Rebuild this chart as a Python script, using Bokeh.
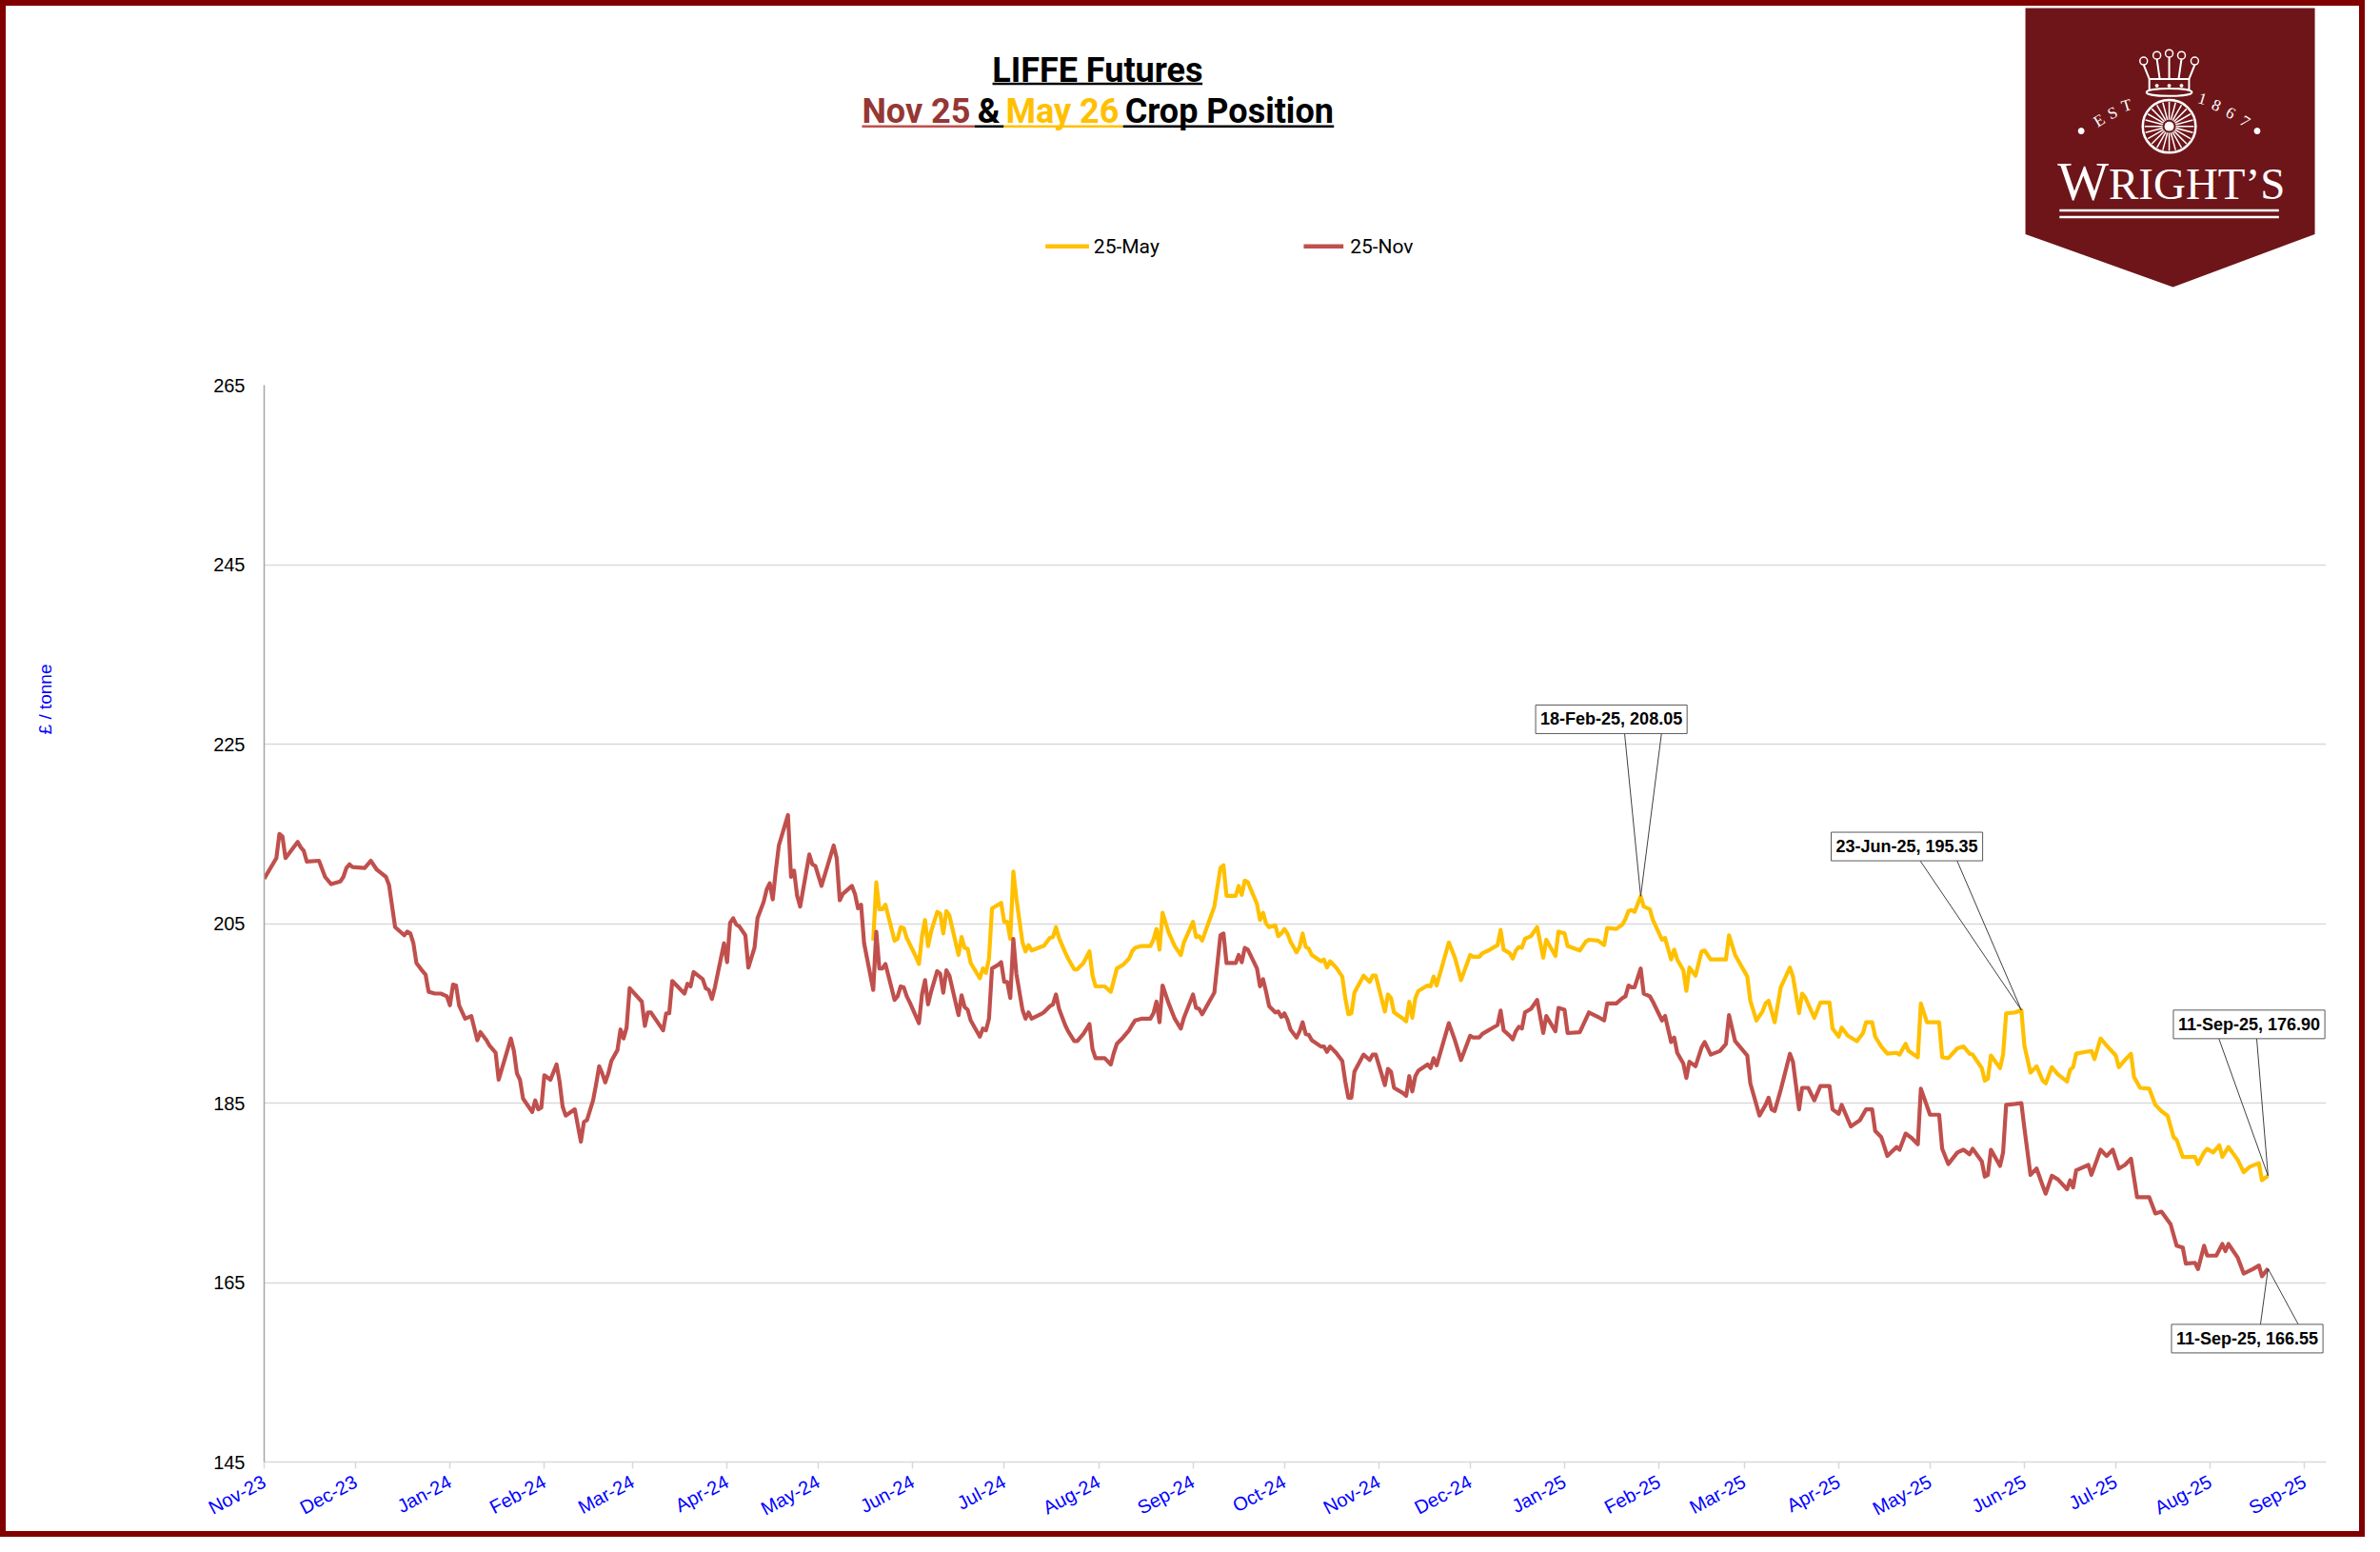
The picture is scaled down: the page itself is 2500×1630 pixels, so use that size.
import numpy as np
import pandas as pd
from bokeh.plotting import figure
from bokeh.layouts import column
from bokeh.models import Range1d, FixedTicker, Label, Title, LinearAxis
from bokeh.core.properties import value
from bokeh.embed import file_html
from bokeh.resources import INLINE

# ---- data ----
start_date = "2023-11-01"
month_labels = ["Nov-23", "Dec-23", "Jan-24", "Feb-24", "Mar-24", "Apr-24", "May-24", "Jun-24",
                "Jul-24", "Aug-24", "Sep-24", "Oct-24", "Nov-24", "Dec-24", "Jan-25", "Feb-25",
                "Mar-25", "Apr-25", "May-25", "Jun-25", "Jul-25", "Aug-25", "Sep-25"]
y_ticks = [145, 165, 185, 205, 225, 245, 265]
series_names = ["25-May", "25-Nov"]

# x = days after start_date where the point sits on the date axis, y = £/tonne
nov_days = [0, 4, 5, 6, 7, 11, 12, 13, 14, 18, 20, 22, 25, 26, 27, 28, 29, 33, 35, 37,
            40, 41, 43, 46, 47, 48, 49, 50, 52, 53, 54, 55, 56, 58, 60, 61, 62, 63, 64, 66,
            68, 70, 71, 73, 74, 76, 77, 79, 81, 82, 83, 84, 85, 88, 89, 90, 91, 92, 94, 96,
            97, 98, 99, 102, 104, 105, 106, 108, 109, 110, 111, 112, 113, 114, 116, 117, 118, 119, 120, 124,
            125, 126, 127, 131, 132, 133, 134, 138, 139, 140, 141, 144, 145, 146, 147, 148, 151, 152, 153, 154,
            155, 156, 158, 159, 161, 162, 164, 165, 166, 167, 168, 169, 172, 173, 174, 175, 176, 179, 180, 181,
            183, 187, 188, 189, 190, 193, 194, 195, 196, 197, 200, 201, 202, 203, 204, 207, 208, 209, 210, 211,
            212, 215,
            216, 217, 218, 219, 221, 222, 223, 224, 225, 228, 229, 230, 231, 232, 235, 236, 237, 238, 239, 241,
            242, 243, 244, 245, 246, 247, 249, 250, 251, 252, 255, 256, 258, 259, 260, 261, 263, 264, 266, 267,
            269, 271, 272, 273, 276, 278, 279, 280, 282, 284, 285, 286, 288, 291, 292, 293, 294, 295, 297, 299,
            301, 302, 305, 306, 307, 308, 312, 314, 315, 316, 319, 320, 321, 322, 323, 326, 327, 328, 329, 330,
            332, 333, 334, 335, 336, 337, 339, 340, 341, 342, 343, 344, 347, 348, 349, 350, 352, 354, 355, 356,
            357, 358, 361, 363, 364, 365, 368, 369, 370, 371, 374, 375, 376, 377, 378, 379, 382, 383, 384, 385,
            389, 391, 393, 396, 397, 399, 400, 402, 403, 405, 406, 407, 409, 410, 411, 412, 413, 414, 416, 418,
            420, 421, 424, 425, 427, 428, 432, 435,
            438, 440, 441, 444, 446, 447, 448, 449, 450, 452, 453, 455, 456, 459, 460, 462, 463, 464, 466, 467,
            468, 470, 472, 473, 475, 478, 480, 481, 483, 487, 488, 491, 493, 494, 495, 496, 498, 501, 502, 504,
            505, 507, 509, 511, 514, 515, 517, 518, 521, 524, 526, 528, 529, 531, 533, 536, 537, 539, 541, 543,
            544, 547, 550, 551, 553, 556, 558, 560, 561, 564, 565, 566, 567, 570, 571, 572, 575, 577, 578, 580,
            582, 584, 585, 587, 589, 592, 593, 594, 595, 599, 600, 603, 605, 607, 609, 611, 613, 615, 619, 621,
            623, 626, 628, 630, 631, 634, 635, 637, 638, 641, 643, 644, 645, 648, 650, 653, 655, 656, 658]
nov_price = [210.0, 212.3, 215.0, 214.7, 212.3, 214.1, 213.5, 213.1, 211.9, 212.0,
             210.2, 209.4, 209.7, 210.2, 211.2, 211.6, 211.3, 211.2, 212.0, 211.0,
             210.2, 209.3, 204.6, 203.7, 204.1, 203.9, 202.8, 200.6, 199.7, 199.3,
             197.4, 197.3, 197.2, 197.2, 196.9, 195.9, 198.2, 198.1, 195.9, 194.4,
             194.7, 192.0, 192.9, 192.0, 191.4, 190.6, 187.6, 189.9, 192.2, 190.8,
             188.3, 187.6, 185.5, 184.0, 185.3, 184.3, 184.5, 188.1, 187.6, 189.3,
             187.4, 184.6, 183.6, 184.3, 180.7, 182.9, 183.1, 185.3, 187.1, 189.1,
             188.3, 187.3, 188.3, 189.7, 190.9, 193.2, 192.2, 193.4, 197.8, 196.3,
             193.6, 195.1, 195.1, 193.1, 195.0, 195.0, 198.6, 197.2, 198.3, 198.0,
             199.6, 198.8, 197.8, 197.6, 196.6, 197.9, 202.8, 200.7, 205.1, 205.6,
             204.9, 204.7, 203.7, 200.1, 202.3, 205.6, 207.4, 208.8, 209.5, 207.7,
             210.9, 213.7, 217.1, 210.2, 210.9, 208.1, 206.9, 212.7, 211.6, 211.4,
             209.2, 213.7, 212.3, 207.6, 208.3, 209.2, 208.3, 206.7, 207.1, 202.8,
             197.6, 204.1, 200.0, 200.0, 200.5, 196.5, 196.9, 198.0, 197.9, 196.9,
             196.2, 193.9,
             197.1, 198.7, 196.0, 197.4, 199.7, 199.4, 197.3, 199.8, 199.2, 194.8,
             197.0, 195.7, 195.4, 194.2, 192.4, 193.3, 193.1, 194.4, 200.0, 200.4,
             200.7, 198.5, 198.5, 196.7, 203.3, 199.4, 195.4, 194.4, 195.1, 194.4,
             194.9, 195.1, 195.8, 196.0, 197.1, 195.5, 193.7, 193.0, 191.9, 191.9,
             192.7, 193.8, 191.0, 190.0, 190.0, 189.3, 190.6, 191.6, 192.3, 193.1,
             193.7, 194.2, 194.4, 194.4, 195.0, 196.3, 194.0, 198.1, 196.1, 194.4,
             193.3, 194.5, 197.1, 195.6, 195.5, 194.9, 197.3, 203.7, 203.9, 200.6,
             200.6, 201.5, 200.7, 202.3, 202.1, 200.0, 198.0, 198.8, 197.4, 195.8,
             195.1, 195.2, 194.6, 195.0, 194.3, 193.2, 192.3, 193.0, 194.0, 192.7,
             192.6, 192.0, 191.3, 191.3, 190.7, 191.3, 190.6, 189.7, 187.4, 185.6,
             185.6, 188.5, 190.4, 189.8, 190.4, 190.4, 187.0, 188.8, 188.5, 186.7,
             186.1, 185.8, 188.0, 186.3, 188.0, 188.6, 189.3, 188.9, 190.0, 189.2,
             193.9, 192.0, 189.8, 192.5, 192.3, 192.3, 192.7, 193.1, 193.3, 193.7,
             195.3, 193.1, 192.5, 192.1, 193.0, 193.5, 193.3, 195.1, 195.5, 196.5,
             192.8, 194.7, 193.0, 195.6, 195.4, 192.8, 192.9, 195.1,
             194.6, 194.2, 196.1, 196.1, 196.7, 196.9, 198.1, 197.9, 197.9, 200.0,
             197.2, 196.9, 196.3, 194.2, 194.7, 191.8, 192.3, 190.6, 189.4, 187.8,
             189.6, 189.1, 191.2, 191.8, 190.4, 190.8, 191.6, 194.8, 191.9, 190.3,
             187.2, 183.6, 184.8, 185.6, 184.3, 184.1, 186.5, 190.5, 189.6, 184.3,
             186.7, 186.7, 185.3, 186.9, 186.9, 184.3, 183.8, 184.8, 182.4, 183.1,
             184.3, 184.3, 181.9, 181.2, 179.1, 180.1, 179.8, 181.6, 181.1, 180.4,
             186.6, 183.7, 183.7, 179.9, 178.2, 179.5, 179.8, 179.3, 179.9, 178.5,
             176.8, 177.0, 179.8, 178.0, 179.5, 184.8, 184.9, 185.0, 182.2, 177.0,
             177.7, 175.8, 174.9, 176.9, 176.5, 175.4, 176.4, 175.6, 177.5, 178.1,
             177.0, 179.8, 179.1, 179.8, 177.7, 178.1, 178.8, 174.5, 174.5, 172.7,
             172.9, 171.5, 169.1, 168.9, 167.1, 167.2, 166.5, 169.1, 168.0, 168.0,
             169.3, 168.5, 169.3, 167.8, 166.0, 166.5, 166.9, 165.7, 166.55]

may_days = [200, 201, 202, 203, 204, 207, 208, 209, 210, 211, 213, 214, 215, 216, 217, 218, 219, 221, 222, 223,
            224, 225, 228, 229, 230, 231, 232, 235, 236, 237, 238, 239, 242, 243, 244, 245, 246, 247, 249, 250,
            251, 252, 255, 256, 258, 259, 260, 261, 263, 264, 266, 267, 269, 271, 272, 273, 276, 278, 279, 280,
            282, 284, 285, 286, 288, 291, 292, 293, 294, 295, 297, 299, 301, 302, 305, 306, 307, 308, 312, 314,
            315, 316, 319, 320, 321, 322, 323, 326, 327, 328, 329, 330, 332, 333, 334, 335, 336, 337, 339, 340,
            341, 342, 343, 344, 347, 348, 349, 350, 352, 354, 355, 356, 357, 358, 361, 363, 364, 365, 368, 369,
            370, 371, 374, 375, 376, 377, 378, 379, 382, 383, 384, 385, 389, 391, 393, 396, 397, 399, 400, 402,
            403, 405, 406, 407, 409, 410, 411, 412, 413, 414, 416, 418, 420, 421, 424, 425, 427, 428, 432, 434,
            435,
            438, 440, 441, 444, 446, 447, 448, 449, 450, 452, 453, 455, 456, 459, 460, 462, 463, 464, 466, 467,
            468, 470, 472, 473, 475, 478, 480, 481, 483, 487, 488, 490, 492, 493, 494, 495, 496, 498, 501, 502,
            504, 505, 506, 509, 511, 514, 515, 517, 518, 520, 523, 525, 526, 528, 529, 531, 533, 536, 537, 539,
            540, 543, 544, 546, 550, 551, 553, 556, 558, 560, 561, 564, 565, 566, 567, 570, 571, 572, 575, 577,
            578, 580, 582, 584, 585, 587, 589, 592, 593, 594, 595, 598, 600, 601, 603, 605, 608, 609, 611, 613,
            614, 616, 619, 621, 623, 625, 627, 628, 630, 634, 635, 637, 638, 640, 642, 643, 645, 648, 650, 652,
            655, 656, 658]
may_price = [203.1, 209.6, 206.6, 206.6, 207.1, 203.1, 203.3, 204.6, 204.5, 203.4,
             202.0, 201.3, 200.5, 203.6, 205.4, 202.5, 204.1, 206.3, 206.1, 203.9,
             206.4, 205.9, 201.5, 203.5, 202.3, 202.2, 200.6, 198.9, 200.0, 199.5,
             201.1, 206.7, 207.3, 205.2, 205.2, 203.3, 210.8, 207.8, 202.9, 201.9,
             202.6, 202.0, 202.4, 202.5, 203.4, 203.5, 204.6, 203.4, 201.8, 201.1,
             199.9, 199.9, 200.6, 201.9, 199.2, 198.0, 198.0, 197.4, 198.7, 200.0,
             200.4, 201.1, 201.9, 202.3, 202.5, 202.5, 203.2, 204.4, 202.1, 206.2,
             204.0, 202.5, 201.5, 202.9, 205.2, 203.5, 203.6, 203.1, 206.9, 211.2,
             211.5, 208.1, 208.1, 209.2, 208.2, 209.8, 209.6, 207.2, 205.4, 206.2,
             205.0, 204.6, 204.8, 203.6, 203.9, 204.4, 203.9, 203.0, 201.8, 202.4,
             203.9, 202.4, 202.2, 201.5, 200.8, 201.0, 200.1, 200.8, 200.1, 199.1,
             196.7, 194.9, 195.0, 197.3, 199.2, 198.5, 199.2, 199.2, 195.2, 197.1,
             196.7, 195.1, 194.4, 194.1, 196.3, 194.5, 196.7, 197.5, 198.1, 198.0,
             199.1, 198.1, 202.9, 201.2, 198.7, 201.5, 201.3, 201.3, 201.7, 202.0,
             202.2, 202.6, 204.3, 202.1, 201.7, 201.1, 202.0, 202.4, 202.3, 203.3,
             203.6, 204.6, 201.2, 203.2, 201.4, 204.1, 203.9, 202.5, 202.0, 203.0,
             203.2,
             203.1, 202.6, 204.5, 204.4, 204.9, 205.5, 206.4, 206.5, 206.3, 208.05,
             206.9, 206.6, 205.4, 203.2, 203.4, 201.0, 202.1, 201.0, 199.8, 197.5,
             200.1, 199.2, 201.9, 202.0, 201.0, 201.0, 201.0, 203.7, 201.5, 199.1,
             196.4, 194.2, 195.2, 196.1, 196.4, 195.2, 194.0, 197.9, 200.1, 199.1,
             195.0, 197.2, 196.8, 194.5, 196.2, 196.2, 193.3, 192.4, 193.4, 192.5,
             191.9, 192.8, 194.0, 194.0, 192.4, 191.3, 190.5, 190.6, 190.4, 191.6,
             190.8, 190.1, 196.1, 194.0, 194.0, 190.1, 190.0, 191.1, 191.3, 190.5,
             190.4, 188.9, 187.5, 187.7, 190.3, 188.9, 190.4, 195.0, 195.1, 195.35,
             191.4, 188.4, 189.1, 187.5, 187.2, 189.0, 188.2, 187.4, 188.7, 189.0,
             190.5, 190.7, 190.8, 189.9, 192.2, 191.4, 190.3, 189.0, 189.8, 190.5,
             187.9, 186.7, 186.6, 184.8, 184.1, 183.6, 181.2, 180.9, 179.0, 179.0,
             178.2, 179.5, 179.9, 179.5, 180.3, 179.0, 180.1, 178.7, 177.3, 177.9,
             178.3, 176.4, 176.9]

callout_dates = ["18-Feb-25", "23-Jun-25", "11-Sep-25", "11-Sep-25"]
callout_days = [452, 577, 658, 658]
callout_values = [208.05, 195.35, 176.90, 166.55]

# ---- layout (page is 2484 px wide; S maps the 2500 px reference onto it) ----
S = 2484 / 2500
W = 2472                      # inside the 6 px frame border
HEAD_H = 384
FW, FH = 2166, 1131           # plot frame in px
BL, BR = 271, 35
x_end = 677.1
MAY_COL, NOV_COL = "#FFC000", "#C0504D"

tick_days = [int(d) for d in (pd.date_range(start_date, periods=len(month_labels), freq="MS")
                              - pd.Timestamp(start_date)).days]

p = figure(width=W, height=1602 - HEAD_H, x_range=Range1d(0, x_end),
           y_range=Range1d(y_ticks[0], y_ticks[-1]), output_backend="svg", toolbar_location=None,
           min_border_left=BL, min_border_right=BR, min_border_top=14, min_border_bottom=73)
p.outline_line_color = None
p.xgrid.visible = False
p.ygrid.grid_line_color = "#d9d9d9"
p.ygrid.grid_line_width = 1.5

p.yaxis.ticker = FixedTicker(ticks=y_ticks)
p.yaxis.axis_line_color = "#a6a6a6"
p.yaxis.axis_line_width = 1.5
p.yaxis.major_tick_line_color = None
p.yaxis.major_tick_out = 0
p.yaxis.minor_tick_line_color = None
p.yaxis.major_label_text_font = "Liberation Sans"
p.yaxis.major_label_text_font_size = "20px"
p.yaxis.major_label_text_color = "black"
p.yaxis.major_label_standoff = 20

p.xaxis.ticker = FixedTicker(ticks=tick_days)
p.xaxis.major_label_overrides = {d: lab for d, lab in zip(tick_days, month_labels)}
p.xaxis.major_label_orientation = np.radians(28)
p.xaxis.major_label_text_color = "#0000ff"
p.xaxis.major_label_text_font = "Liberation Sans"
p.xaxis.major_label_text_font_size = "20px"
p.xaxis.major_label_standoff = 12
p.xaxis.axis_line_color = "#d9d9d9"
p.xaxis.axis_line_width = 1.5
p.xaxis.major_tick_line_color = "#d9d9d9"
p.xaxis.major_tick_line_width = 1.5
p.xaxis.major_tick_in = 0
p.xaxis.major_tick_out = 7
p.xaxis.minor_tick_line_color = None

# y title sits high on the far left: a blank-labelled axis pushes it out, offset lifts it
spacer = LinearAxis(ticker=FixedTicker(ticks=[]), axis_line_color=None, major_tick_line_color=None,
                    minor_tick_line_color=None, major_tick_out=0, minor_tick_out=0,
                    major_label_standoff=0, axis_label="\u00a0", axis_label_standoff=138,
                    axis_label_text_font="Liberation Sans", axis_label_text_font_size="19px")
p.add_layout(spacer, "left")
p.add_layout(Title(text="£ / tonne", align="right", vertical_align="top", offset=293, standoff=0,
                   text_color="#0000ff", text_font="Liberation Sans", text_font_size="19px",
                   text_font_style="normal"), "left")

p.line(may_days, may_price, line_color=MAY_COL, line_width=4.2, line_join="round")
p.line(nov_days, nov_price, line_color=NOV_COL, line_width=4.2, line_join="round")

# callouts: box centre offset and two leader lines (reference px from the point)
px_x = FW / x_end
px_y = FH / (y_ticks[-1] - y_ticks[0])
box_off = [(-31, 187), (-121, 173), (-20, 160), (-22, -74)]
leader_off = [(-17, 22, 172), (-107, -68, 158), (-52, -12, 145), (-8, 32, -59)]
x0s, y0s, x1s, y1s = [], [], [], []
for d, v, dt, (bx, by), (l1, l2, ly) in zip(callout_days, callout_values, callout_dates, box_off, leader_off):
    for lx in (l1, l2):
        x0s.append(d)
        y0s.append(v)
        x1s.append(d + lx * S / px_x)
        y1s.append(v + ly * S / px_y)
    p.add_layout(Label(x=d, y=v, x_offset=bx * S, y_offset=by * S, text=f"{dt}, {v:.2f}",
                       text_align="center", text_baseline="middle", text_font="Liberation Sans",
                       text_font_style="bold", text_font_size="18px", text_color="black",
                       background_fill_color="white", border_line_color="#595959",
                       border_line_width=1, padding=5))
p.segment(x0s, y0s, x1s, y1s, line_color="#404040", line_width=1)

# ---- header: title, legend, logo (drawn in reference pixel coordinates) ----
h = figure(width=W, height=HEAD_H, x_range=Range1d(279, 2459), y_range=Range1d((6 + HEAD_H) / S, 6 / S),
           x_axis_location=None, y_axis_location=None, output_backend="svg", toolbar_location=None,
           min_border_left=BL, min_border_right=BR, min_border_top=0, min_border_bottom=0)
h.grid.visible = False
h.outline_line_color = None

h.text(x=[1160], y=[73.5], text=["LIFFE Futures"], text_align="center", text_baseline="middle",
       text_font=value("Roboto"), text_font_style="bold", text_font_size="36px", text_color="black")
h.segment(x0=[1049], y0=[88], x1=[1271], y1=[88], line_color="black", line_width=2.5)

sub_text = ["Nov 25", "&", "May 26", "Crop Position"]
sub_col = ["#953735", "black", MAY_COL, "black"]
sub_x = [911, 1033, 1063, 1189]
sub_end = [1030, 1061, 1187, 1410]
h.text(x=sub_x, y=[117.5] * 4, text=sub_text, text_color=sub_col, text_align="left",
       text_baseline="middle", text_font=value("Roboto"), text_font_style="bold",
       text_font_size="36px")
h.segment(x0=sub_x[:1] + sub_end[:-1], y0=[133] * 4, x1=sub_end, y1=[133] * 4,
          line_color=[NOV_COL, "black", MAY_COL, "black"], line_width=2.5)

# legend
h.segment(x0=[1105, 1378], y0=[260, 260], x1=[1151, 1420], y1=[260, 260],
          line_color=[MAY_COL, NOV_COL], line_width=4.5)
h.text(x=[1156, 1427], y=[260, 260], text=series_names, text_baseline="middle",
       text_font=value("Roboto"), text_font_size="21px", text_color="black")

# logo banner
LOGO = "#6E1519"
h.patch([2141, 2447, 2447, 2297, 2141], [8, 8, 247, 303, 247], fill_color=LOGO, line_color=None)
cx = 2293
h.quad(left=[2272], right=[2314], top=[83], bottom=[96], fill_color=None, line_color="white", line_width=2)
h.ellipse(x=[cx], y=[97], width=[48], height=[8], fill_color=LOGO, line_color="white", line_width=2)
tips_x = [2266, 2280, 2293, 2306, 2320]
tips_y = [64, 58, 56, 58, 64]
h.segment(x0=tips_x, y0=[t + 4 for t in tips_y], x1=[2272, 2283, 2293, 2303, 2314], y1=[83] * 5,
          line_color="white", line_width=2)
h.circle(tips_x, tips_y, radius=4, fill_color=LOGO, line_color="white", line_width=1.5)
h.scatter([2280, 2293, 2306], [90, 90, 90], size=3, color="white")
ang = np.linspace(0, 2 * np.pi, 24, endpoint=False)
h.segment(x0=cx + 7 * np.cos(ang), y0=133 + 7 * np.sin(ang), x1=cx + 26 * np.cos(ang),
          y1=133 + 26 * np.sin(ang), line_color="white", line_width=1.5)
h.circle([cx], [133], radius=28, fill_color=None, line_color="white", line_width=2.5)
h.circle([cx], [133], radius=5, fill_color="white", line_color=None)
h.text(x=[2219, 2233, 2248], y=[127, 119, 111], text=["E", "S", "T"], angle=[0.55, 0.42, 0.3],
       text_align="center", text_baseline="middle", text_font=value("Liberation Serif"),
       text_font_size="17px", text_color="white")
h.text(x=[2328, 2343, 2358, 2373], y=[104, 111, 119, 128], text=["1", "8", "6", "7"],
       angle=[-0.3, -0.42, -0.5, -0.6], text_align="center", text_baseline="middle",
       text_font=value("Liberation Serif"), text_font_size="17px", text_color="white")
h.scatter([2200, 2386], [138, 138], size=6, color="white")
h.text(x=[2175], y=[191], text=["W"], text_font=value("Liberation Serif"), text_font_size="57px",
       text_color="white", text_baseline="middle")
h.text(x=[2229], y=[194], text=["RIGHT’S"], text_font=value("Liberation Serif"), text_font_size="47px",
       text_color="white", text_baseline="middle")
h.segment(x0=[2177, 2177], y0=[222, 229], x1=[2409, 2409], y1=[222, 229], line_color="white", line_width=2.5)

layout = column(h, p, spacing=0, styles={"border": "6px solid #800000"})
open("out.html", "w").write(file_html(layout, INLINE))
